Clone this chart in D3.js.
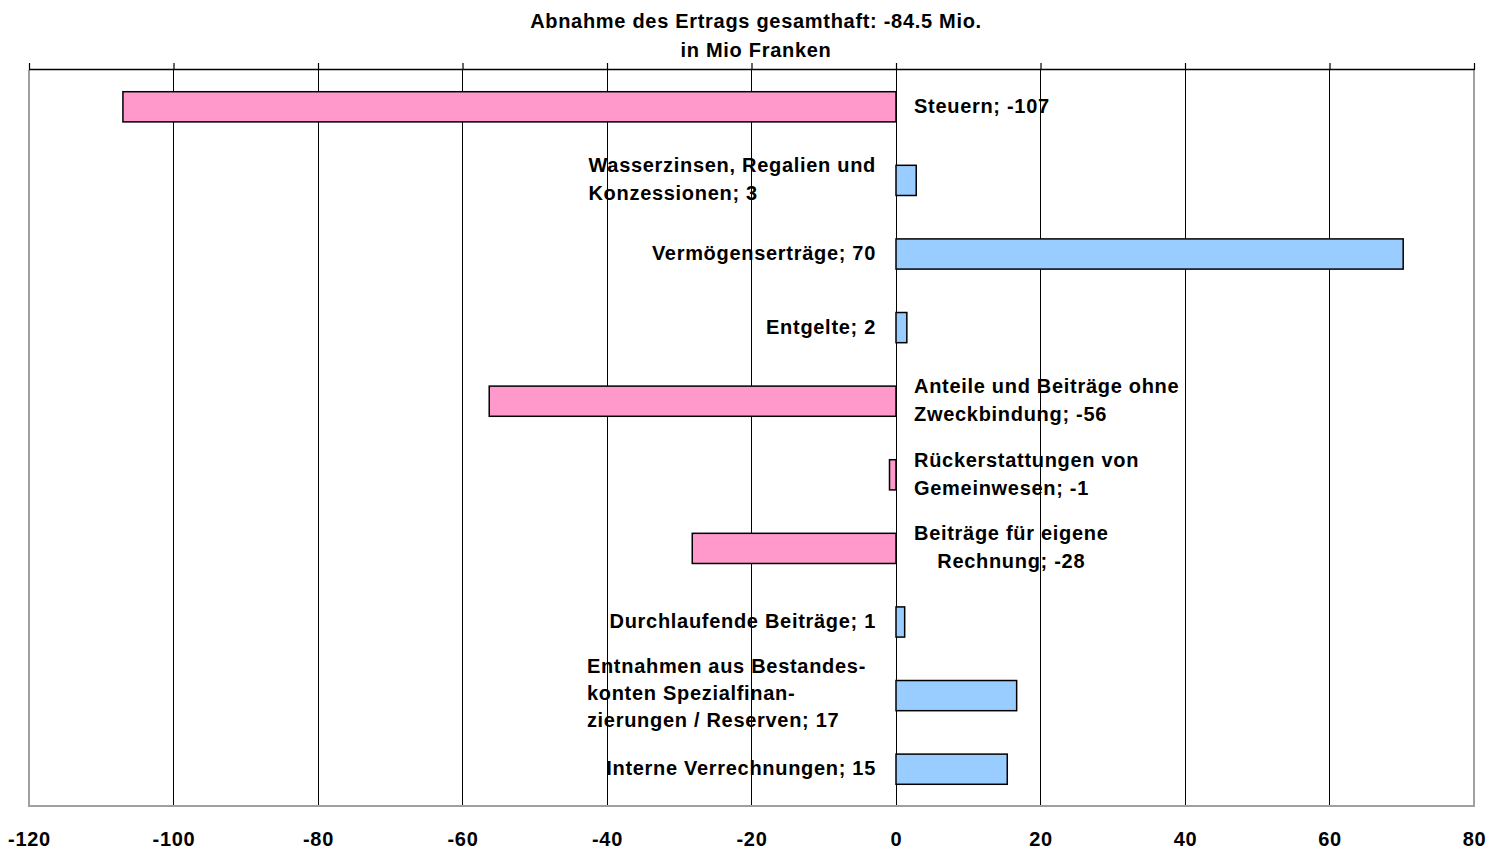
<!DOCTYPE html>
<html><head><meta charset="utf-8">
<script src="https://cdn.jsdelivr.net/npm/d3@7"></script>
<style>
html,body{margin:0;padding:0;background:#fff;}
text{font-family:"Liberation Sans",Arial,sans-serif;font-weight:bold;fill:#000;}
</style></head>
<body><svg id="chart" width="1488" height="850"></svg>
<script>
const titleLines = ["Abnahme des Ertrags gesamthaft: -84.5 Mio.", "in Mio Franken"];
const categoryLines = [
  ["Steuern"],
  ["Wasserzinsen, Regalien und", "Konzessionen"],
  ["Vermögenserträge"],
  ["Entgelte"],
  ["Anteile und Beiträge ohne", "Zweckbindung"],
  ["Rückerstattungen von", "Gemeinwesen"],
  ["Beiträge für eigene", "Rechnung"],
  ["Durchlaufende Beiträge"],
  ["Entnahmen aus Bestandes-", "konten Spezialfinan-", "zierungen / Reserven"],
  ["Interne Verrechnungen"]
];
const values = [-107, 2.8, 70.2, 1.5, -56.3, -0.9, -28.2, 1.2, 16.7, 15.4];
const xTicks = [-120, -100, -80, -60, -40, -20, 0, 20, 40, 60, 80];

const svg = d3.select("#chart");
const L = 29, R = 1474, T = 70, B = 806;
const FS = "20px", LS = "0.7px";
const x = d3.scaleLinear().domain([-120, 80]).range([L, R]);
const y = d3.scaleBand().domain(d3.range(values.length)).range([T, B]).paddingInner(0.59).paddingOuter(0.295);

// title
svg.selectAll("text.title").data(titleLines).join("text")
  .attr("class", "title").attr("x", 756).attr("y", (d, i) => 28 + i * 29)
  .attr("text-anchor", "middle").style("font-size", FS).style("letter-spacing", LS).text(d => d);

// gridlines
svg.append("g").selectAll("line").data(xTicks.filter(t => t > -120 && t < 80)).join("line")
  .attr("x1", d => x(d)).attr("x2", d => x(d)).attr("y1", T).attr("y2", B)
  .attr("stroke", "#000").attr("stroke-width", 1).attr("shape-rendering", "crispEdges");

// border (gray) left/right/bottom
svg.append("path").attr("d", `M${L},${T}V${B}H${R}V${T}`)
  .attr("fill", "none").attr("stroke", "#a0a0a0").attr("stroke-width", 2);

// top axis with ticks upward
const topAxis = d3.axisTop(x).tickValues(xTicks).tickSize(7).tickFormat("");
const gTop = svg.append("g").attr("transform", `translate(0,${T})`).call(topAxis);
gTop.select(".domain").attr("stroke", "#000").attr("stroke-width", 1.5).attr("d", `M${L},-0.5H${R}`);
gTop.selectAll(".tick line").attr("stroke", "#000").attr("stroke-width", 1.2);

// bottom tick labels
const botAxis = d3.axisBottom(x).tickValues(xTicks).tickSize(0).tickPadding(26).tickFormat(d => String(d));
const gBot = svg.append("g").attr("transform", `translate(0,${B})`).call(botAxis);
gBot.select(".domain").remove();
gBot.selectAll("text").style("font-size", FS).style("letter-spacing", LS)
  .style("font-family", "Liberation Sans, Arial, sans-serif").style("font-weight", "bold").attr("fill", "#000");

// bars
svg.append("g").selectAll("rect").data(values).join("rect")
  .attr("x", d => x(Math.min(0, d))).attr("width", d => Math.abs(x(d) - x(0)))
  .attr("y", (d, i) => y(i)).attr("height", y.bandwidth())
  .attr("fill", d => d < 0 ? "#FF99CC" : "#99CCFF")
  .attr("stroke", "#000").attr("stroke-width", 1.5);

// labels
const centered = new Set([6]);
values.forEach((v, i) => {
  const lines = categoryLines[i].slice();
  lines[lines.length - 1] = lines[lines.length - 1] + "; " + Math.round(v);
  const n = lines.length;
  const lineH = n > 2 ? 27 : 28;
  const g = svg.append("g");
  const cy = y(i) + y.bandwidth() / 2 - (n > 2 ? 4 : 2);
  const texts = g.selectAll("text").data(lines).join("text")
    .style("font-size", FS).style("letter-spacing", LS)
    .attr("y", (d, j) => cy + (j - (n - 1) / 2) * lineH + 8)
    .text(d => d);
  const widths = [];
  texts.each(function () { widths.push(this.getComputedTextLength()); });
  const w = d3.max(widths);
  const gap = n > 2 ? 30 : 20;
  const left = v < 0 ? x(0) + 18 : x(0) - gap - w;
  if (centered.has(i)) {
    texts.attr("x", left + w / 2).attr("text-anchor", "middle");
  } else {
    texts.attr("x", left).attr("text-anchor", "start");
  }
});
</script></body></html>
